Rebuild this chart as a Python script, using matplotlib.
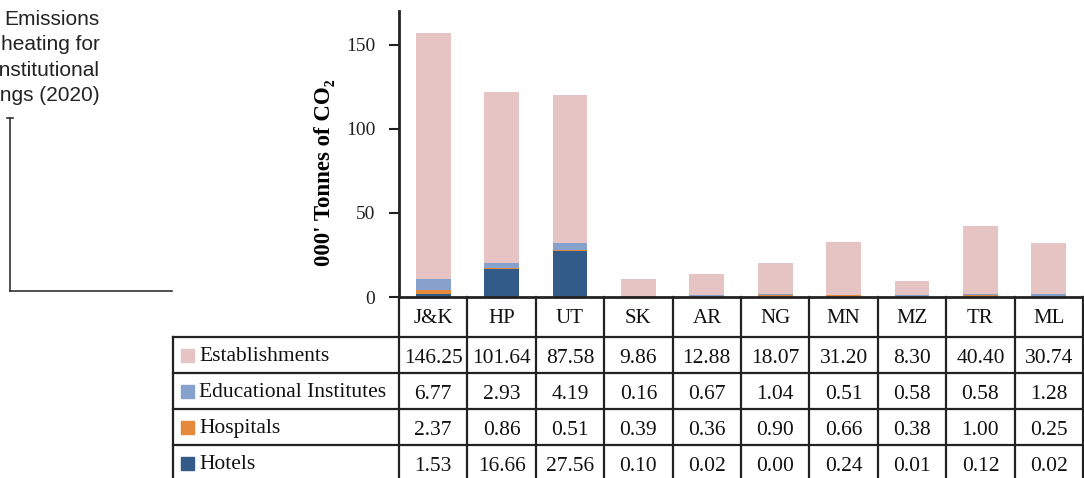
import matplotlib
matplotlib.use("Agg")
import matplotlib.pyplot as plt
from matplotlib.lines import Line2D
from matplotlib.patches import Rectangle

# State-wise emissions, thousand tonnes of CO2
states = ["J&K", "HP", "UT", "SK", "AR", "NG", "MN", "MZ", "TR", "ML"]
hotels = [1.53, 16.66, 27.56, 0.10, 0.02, 0.00, 0.24, 0.01, 0.12, 0.02]
hospitals = [2.37, 0.86, 0.51, 0.39, 0.36, 0.90, 0.66, 0.38, 1.00, 0.25]
educational = [6.77, 2.93, 4.19, 0.16, 0.67, 1.04, 0.51, 0.58, 0.58, 1.28]
establishments = [146.25, 101.64, 87.58, 9.86, 12.88, 18.07, 31.20, 8.30, 40.40, 30.74]

# table rows, top to bottom (stacked bottom-up in the bars)
rows = [
    ("Establishments", establishments, "#e5c4c3"),
    ("Educational Institutes", educational, "#87a1cd"),
    ("Hospitals", hospitals, "#e58a3a"),
    ("Hotels", hotels, "#335b8a"),
]

serif = ["Liberation Serif", "DejaVu Serif"]
plt.rcParams["font.family"] = serif
line_col = "#222222"
W, H = 1084, 478

fig = plt.figure(figsize=(W / 100, H / 100), dpi=100)
ax = fig.add_axes([399 / W, 1 - 297 / H, 684 / W, 286 / H])

x = list(range(len(states)))
bottom = [0.0] * len(states)
for name, vals, col in reversed(rows):
    ax.bar(x, vals, width=0.51, bottom=bottom, color=col, label=name, zorder=2)
    bottom = [b + v for b, v in zip(bottom, vals)]

ax.set_xlim(-0.5, len(states) - 0.5)
ax.set_ylim(0, 170)
ax.set_yticks([0, 50, 100, 150])
ax.tick_params(axis="y", direction="out", length=7, width=1.5, pad=10,
               labelsize=14, colors=line_col)
ax.set_xticks([])
for s in ["top", "right"]:
    ax.spines[s].set_visible(False)
for s in ["left", "bottom"]:
    ax.spines[s].set_linewidth(2)
    ax.spines[s].set_color(line_col)

ax.set_ylabel("000' Tonnes of CO\u2082", fontsize=16.5, fontweight="bold")
ax.yaxis.set_label_coords(-0.094, 0.434)

# data table under the bars: x in data units, y in axes fraction
tr = ax.get_xaxis_transform()
row_px = [297, 337, 373, 409, 445, 481]
row_y = [(297 - p) / 286 for p in row_px]
base_off = 12 / 286  # text baseline above a row's lower edge
col_w = 68.4
label_left = -0.5 - (399 - 173) / col_w
lw = 1.6

for y in row_y[1:-1]:
    ax.add_line(Line2D([label_left, len(states) - 0.5], [y, y], transform=tr,
                       color=line_col, lw=lw, clip_on=False))
ax.add_line(Line2D([label_left, label_left], [row_y[1], row_y[-1]], transform=tr,
                   color=line_col, lw=lw, clip_on=False))
for k in range(len(states) + 1):
    xb = k - 0.5
    ax.add_line(Line2D([xb, xb], [row_y[0], row_y[-1]], transform=tr,
                       color=line_col, lw=lw, clip_on=False))

# header row
for i, st in enumerate(states):
    ax.text(i, row_y[1] + 14 / 286, st, transform=tr, ha="center", va="baseline",
            fontsize=15, color="#111111")

# value rows with legend keys
sq_w = 13 / col_w
sq_h = 13 / 286
for r, (name, vals, col) in enumerate(rows):
    cy = (row_y[r + 1] + row_y[r + 2]) / 2
    by = row_y[r + 2] + base_off
    ax.add_patch(Rectangle((label_left + 8 / col_w, cy - sq_h / 2), sq_w, sq_h,
                           transform=tr, color=col, clip_on=False))
    ax.text(label_left + 26 / col_w, by, name, transform=tr, ha="left",
            va="baseline", fontsize=15.5, color="#111111")
    for i, v in enumerate(vals):
        ax.text(i, by - 2 / 286, f"{v:.2f}", transform=tr, ha="center",
                va="baseline", fontsize=15.5, color="#111111")

# caption at the left with its bracket
fig.text(100 / W, 1 - 10 / H, "Emissions\nheating for\ninstitutional\nbuildings (2020)",
         ha="right", va="top", fontsize=15, family="Liberation Sans",
         color="#222222", linespacing=1.42)
fig.add_artist(Line2D([10 / W, 10 / W], [1 - 118 / H, 1 - 291 / H],
                      color="#333333", lw=1.2))
fig.add_artist(Line2D([7 / W, 13 / W], [1 - 118 / H, 1 - 118 / H],
                      color="#333333", lw=1.2))
fig.add_artist(Line2D([10 / W, 172 / W], [1 - 291 / H, 1 - 291 / H],
                      color="#333333", lw=1.2))

fig.savefig("out.png", dpi=100)
